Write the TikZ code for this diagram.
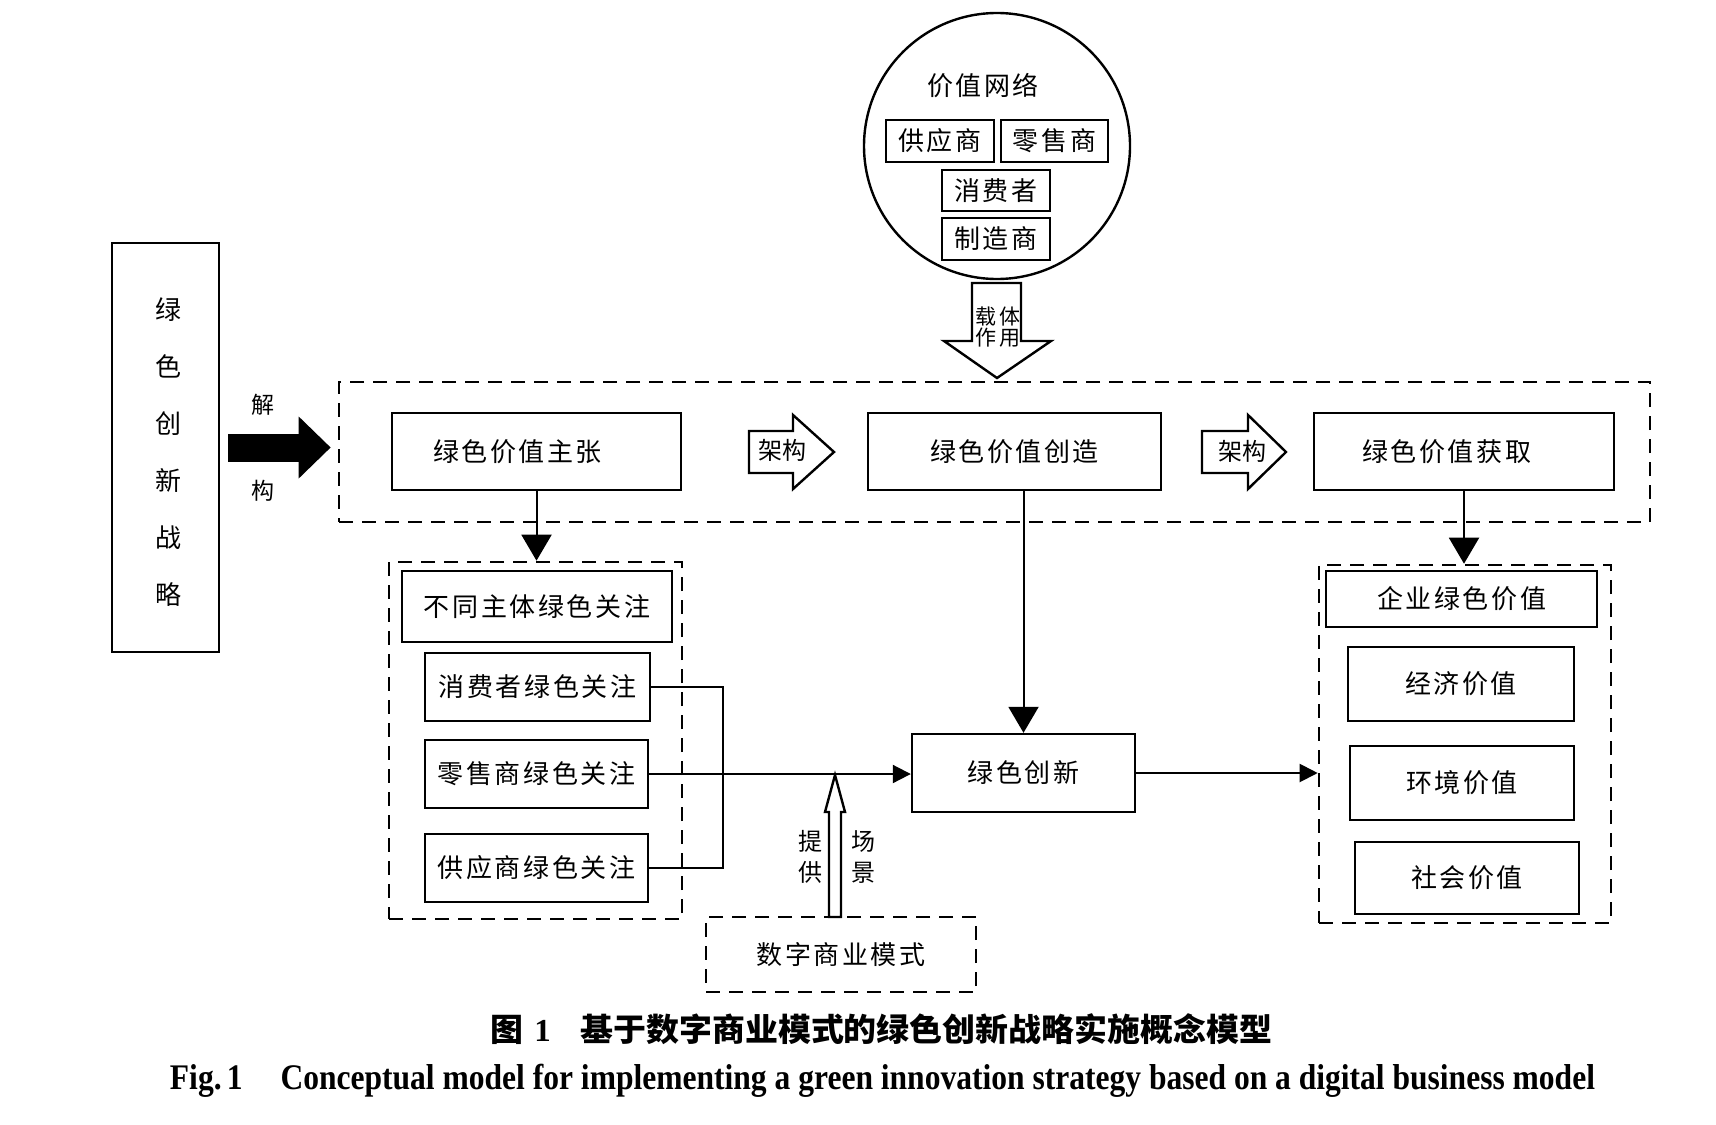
\documentclass[tikz,border=0pt]{standalone}
\usepackage{fontspec}
\setmainfont{Liberation Serif}
\newfontfamily\cjk[LetterSpace=10]{Noto Sans CJK SC}
\newfontfamily\cjktight{Noto Sans CJK SC}
\usetikzlibrary{arrows.meta}

\begin{document}
\begin{tikzpicture}[x=0.5pt, y=-0.5pt,
  box/.style={draw, line width=1.2pt, inner sep=0pt, font=\cjk\fontsize{13}{15}\selectfont},
  dashbox/.style={draw, line width=1.3pt, dash pattern=on 7pt off 4.5pt, inner sep=0pt, font=\cjk\fontsize{13}{15}\selectfont},
  link/.style={line width=1pt},
  bigtip/.style={line width=1pt, -{Triangle[length=13pt, width=15pt]}},
  smalltip/.style={line width=1pt, -{Triangle[length=9pt, width=9pt]}},
  hollow/.style={draw, line width=1.2pt, fill=white, line join=miter},
  lbl/.style={inner sep=0pt, font=\cjktight\fontsize{12}{14}\selectfont}]

\useasboundingbox (0,0) rectangle (1716,1124);

% strategy box and decomposition arrow
{
\node[box, minimum width=53.5pt, minimum height=204.5pt] (zl) at (165.5,447.5) {};
\node[lbl, align=center, font=\cjktight\fontsize{13}{28.5}\selectfont] (zltxt) at (168,452) {绿\\色\\创\\新\\战\\略};

\node[lbl, font=\cjktight\fontsize{11.5}{14}\selectfont] (jie) at (263,405) {解};
\node[lbl, font=\cjktight\fontsize{11.5}{14}\selectfont] (gou) at (263,491) {构};

\node[dashbox, minimum width=655.5pt, minimum height=70pt] (top) at (994.5,452) {};

\draw[line width=14pt, -{Triangle[length=16pt, width=30pt]}]
  ([xshift=4pt]zl.east) -- ([xshift=-3.5pt]zl.east -| top.west);
}

% value network
{
\node[draw, circle, line width=1.2pt, minimum size=133pt, inner sep=0pt] (net) at (997,146) {};
\node[lbl, font=\cjk\fontsize{13}{15}\selectfont] (netlbl) at (983,86) {价值网络};

\node[box, minimum width=54pt, minimum height=21pt] (gys) at (940,141) {供应商};
\node[box, minimum width=53.5pt, minimum height=21pt] (lss) at (1054.5,141) {零售商};
\node[box, minimum width=54pt, minimum height=20.5pt] (xfz) at (996,190.5) {消费者};
\node[box, minimum width=54pt, minimum height=21pt] (zzs) at (996,239) {制造商};

\draw[hollow] (972,283) -- (1021,283) -- (1021,341) -- (1051,341) -- (997,378)
  -- (944,341) -- (972,341) -- cycle;
\node[lbl, align=center, font=\cjk\fontsize{10.5}{9.5}\selectfont] (zt) at (998,327) {载体\\作用};
}

% value chain
{
\node[box, minimum width=144.5pt, minimum height=38.5pt] (zz) at (536.5,451.5) {\hspace*{-19pt}绿色价值主张};
\node[box, minimum width=146.5pt, minimum height=38.5pt] (cz) at (1014.5,451.5) {绿色价值创造};
\node[box, minimum width=150pt, minimum height=38.5pt] (hq) at (1464,451.5) {\hspace*{-17.5pt}绿色价值获取};

\draw[hollow] (749,431) -- (793,431) -- (793,415) -- (834,452) -- (793,489)
  -- (793,473) -- (749,473) -- cycle;
\node[lbl] (jg1) at (782,450) {架构};

\draw[hollow] (1202,431) -- (1248,431) -- (1248,415) -- (1286,452) -- (1248,489)
  -- (1248,473) -- (1202,473) -- cycle;
\node[lbl] (jg2) at (1242,451) {架构};
}

% green concerns
{
\node[dashbox, minimum width=146.5pt, minimum height=178.5pt] (ld) at (535.5,740.5) {};

\node[box, minimum width=135pt, minimum height=35.5pt] (btzt) at (537,606.5) {不同主体绿色关注};
\node[box, minimum width=112.5pt, minimum height=34pt] (xfgz) at (537.5,687) {消费者绿色关注};
\node[box, minimum width=111.5pt, minimum height=34pt] (lsgz) at (536.5,774) {零售商绿色关注};
\node[box, minimum width=111.5pt, minimum height=34pt] (gygz) at (536.5,868) {供应商绿色关注};

\draw[bigtip] (zz.south) -- (zz.south |- ld.north);
}

% green innovation and digital business model
{
\node[box, minimum width=111.5pt, minimum height=39pt] (cx) at (1023.5,773) {绿色创新};
\node[dashbox, minimum width=135pt, minimum height=37.5pt] (szms) at (841,954.5) {数字商业模式};

\coordinate (jd) at (723,774);
\draw[link] (xfgz.east) -| (jd) |- (gygz.east);
\draw[smalltip] (lsgz.east) -- (lsgz.east -| cx.west);
\draw[bigtip] (cz.south -| cx.north) -- (cx.north);

\draw[hollow] (829,917) -- (829,812) -- (825,812) -- (835,775) -- (845,812)
  -- (841,812) -- (841,917) -- cycle;
\node[lbl, align=center, font=\cjktight\fontsize{12}{15.5}\selectfont] (tg) at (810,857) {提\\供};
\node[lbl, align=center, font=\cjktight\fontsize{12}{15.5}\selectfont] (cj) at (863,857) {场\\景};
}

% enterprise green value
{
\node[dashbox, minimum width=146pt, minimum height=179pt] (rd) at (1465,744) {};

\node[box, minimum width=135.5pt, minimum height=28pt] (qy) at (1461.5,599) {企业绿色价值};
\node[box, minimum width=113pt, minimum height=37pt] (jj) at (1461,684) {经济价值};
\node[box, minimum width=112pt, minimum height=37pt] (hj) at (1462,783) {环境价值};
\node[box, minimum width=112pt, minimum height=36pt] (sh) at (1467,878) {社会价值};

\draw[bigtip] (hq.south) -- (hq.south |- rd.north);
\draw[smalltip] (cx.east) -- (cx.east -| rd.west);
}

% captions
\node[inner sep=0pt] (cap1) at (881,1029) {\resizebox{391pt}{\height}{\cjktight\fontsize{16}{18}\selectfont\bfseries
  图\hspace{0.35em}{\rmfamily 1}\hspace{0.9em}基于数字商业模式的绿色创新战略实施概念模型}};
\node[inner sep=0pt] (cap2) at (882.5,1081) {\resizebox{712.5pt}{\height}{\fontsize{18}{20}\selectfont\bfseries
  Fig.\,1\hspace{1.2em}Conceptual model for implementing a green innovation strategy based on a digital business model}};

\end{tikzpicture}
\end{document}
